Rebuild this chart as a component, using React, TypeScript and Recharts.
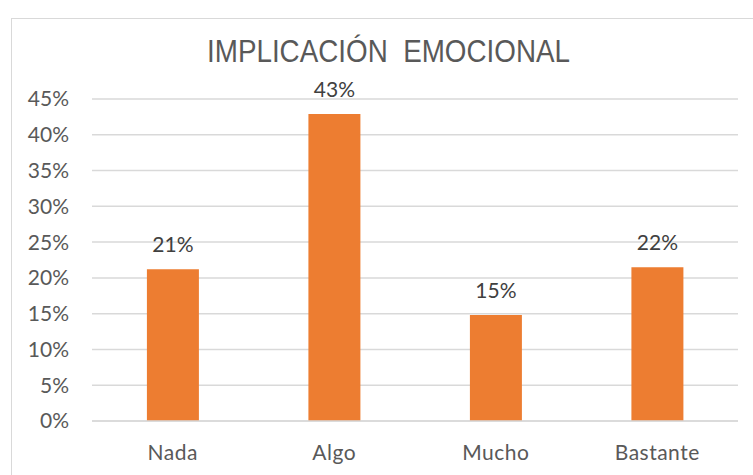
import { BarChart, Bar, XAxis, YAxis, CartesianGrid, LabelList } from 'recharts';

const categories = ['Nada', 'Algo', 'Mucho', 'Bastante'];
const values = [21.2, 42.9, 14.8, 21.5];
const yTicks = [0, 5, 10, 15, 20, 25, 30, 35, 40, 45];

const data = categories.map((name, i) => ({ name, value: values[i] }));

const COLORS = {
  bar: '#ED7D31',
  grid: '#D9D9D9',
  tick: '#595959',
  label: '#404040',
};

const FONT = 'Lato, "Open Sans", sans-serif';

export default function App() {
  return (
    <div style={{ position: 'absolute', left: 0, top: 0, width: 753, height: 475, background: '#fff', overflow: 'hidden' }}>
      {/* chart frame, only top/left edges visible */}
      <div
        style={{
          position: 'absolute',
          left: 11,
          top: 18,
          width: 800,
          height: 500,
          borderTop: '1.5px solid #D9D9D9',
          borderLeft: '1.5px solid #D9D9D9',
        }}
      />
      <svg style={{ position: 'absolute', left: 0, top: 0 }} width={753} height={90}>
        <text
          x={207}
          y={62}
          textLength={363}
          lengthAdjust="spacingAndGlyphs"
          fill={COLORS.tick}
          style={{ fontFamily: '"Liberation Sans Narrow", "Liberation Sans", Arial, sans-serif', fontSize: 31, whiteSpace: 'pre' }}
        >
          IMPLICACIÓN  EMOCIONAL
        </text>
      </svg>
      <div style={{ position: 'absolute', left: 0, top: 0 }}>
        <BarChart
          width={753}
          height={475}
          data={data}
          margin={{ top: 99, right: 15, bottom: 0, left: 0 }}
          barCategoryGap="34%"
        >
          <CartesianGrid vertical={false} stroke={COLORS.grid} strokeWidth={1.5} />
          <XAxis
            dataKey="name"
            height={54}
            tickLine={false}
            tickSize={0}
            tickMargin={24}
            axisLine={{ stroke: COLORS.grid, strokeWidth: 1.5 }}
            tick={{ fill: COLORS.tick, fontSize: 21, fontFamily: FONT, letterSpacing: 0.5 }}
          />
          <YAxis
            width={92}
            domain={[0, 45]}
            ticks={yTicks}
            interval={0}
            tickLine={false}
            tickSize={0}
            tickMargin={23}
            axisLine={false}
            tickFormatter={(v: number) => `${v}%`}
            tick={{ fill: COLORS.tick, fontSize: 21, fontFamily: FONT }}
          />
          <Bar dataKey="value" fill={COLORS.bar} isAnimationActive={false}>
            <LabelList
              dataKey="value"
              position="top"
              offset={17}
              formatter={(v: any) => `${Math.round(Number(v))}%`}
              style={{ fill: COLORS.label, fontSize: 21, fontFamily: FONT }}
            />
          </Bar>
        </BarChart>
      </div>
    </div>
  );
}
